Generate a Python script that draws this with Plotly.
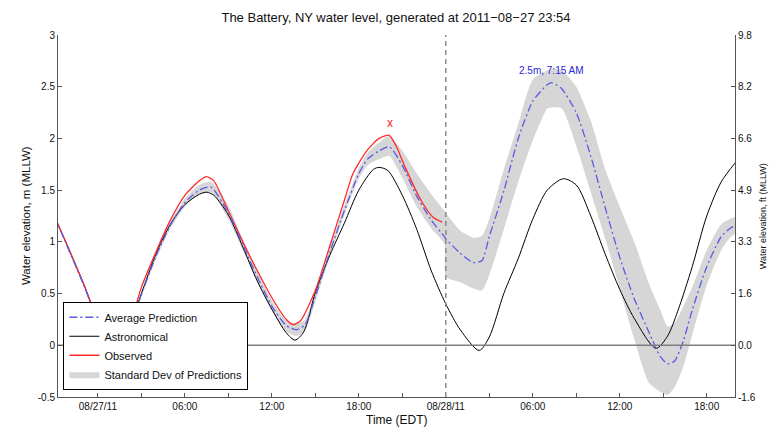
import plotly.graph_objects as go
import pandas as pd

# ---------------- data (hours relative to 2011-08-27 00:00 EDT) ----------------
astro_t = [-3, -2, -1, 0, 1.1, 2, 3, 4, 5, 6, 7, 7.5, 8, 9, 10, 11, 12, 13, 13.6, 14.2,
           15, 16, 17, 18, 19, 19.4, 20, 21, 22, 23, 24, 25, 26.3, 27, 28, 29, 30, 31,
           32.1, 33, 34, 35, 36, 37, 38.5, 39.3, 40, 41, 42, 43, 44]
astro_v = [1.25, 0.93, 0.60, 0.24, 0.01, 0.12, 0.50, 0.88, 1.17, 1.36, 1.46, 1.48, 1.45,
           1.26, 0.95, 0.62, 0.35, 0.12, 0.05, 0.13, 0.51, 0.87, 1.18, 1.50, 1.70, 1.72,
           1.69, 1.45, 1.12, 0.72, 0.40, 0.15, -0.05, 0.08, 0.50, 0.84, 1.22, 1.50, 1.61,
           1.55, 1.25, 0.88, 0.54, 0.26, -0.03, 0.09, 0.33, 0.76, 1.25, 1.58, 1.77]

obs_t = [-3, -2, -1, 0, 1.1, 2, 3, 4, 5, 6, 7, 7.5, 8, 9, 10, 11, 12, 13, 13.5, 14, 15,
         16, 17, 17.6, 18.6, 19.4, 20.1, 20.6, 21.2, 22.3, 23.1, 23.75]
obs_v = [1.25, 0.93, 0.60, 0.25, 0.03, 0.13, 0.56, 0.90, 1.21, 1.45, 1.59, 1.63, 1.59,
         1.30, 1.00, 0.72, 0.46, 0.25, 0.20, 0.24, 0.53, 0.96, 1.40, 1.66, 1.89, 2.00,
         2.03, 1.92, 1.72, 1.40, 1.24, 1.19]

pred_t = [-3, -2, -1, 0, 1.1, 2, 3, 4, 5, 6, 7, 7.8, 9, 10, 11, 12, 13, 13.7, 14.3, 15,
          16, 17, 18, 18.6, 19.4, 20.1, 21, 22, 23, 23.9, 24, 25, 25.9, 26.5, 27, 28, 29,
          30, 31, 31.3, 32, 33, 34, 35, 36, 37, 38, 38.8, 39.3, 39.8, 40.4, 41, 42, 43,
          43.6, 44]
pred_v = [1.25, 0.92, 0.59, 0.24, 0.03, 0.11, 0.49, 0.86, 1.16, 1.38, 1.50, 1.53, 1.28,
          0.97, 0.66, 0.38, 0.19, 0.15, 0.20, 0.47, 0.90, 1.30, 1.66, 1.80, 1.88, 1.92,
          1.74, 1.44, 1.21, 1.05, 1.03, 0.89, 0.80, 0.82, 1.05, 1.49, 2.00, 2.36, 2.52,
          2.54, 2.48, 2.25, 1.83, 1.33, 0.85, 0.45, 0.13, -0.11, -0.18, -0.15, 0.05, 0.34,
          0.76, 1.05, 1.13, 1.16]
pred_upper = [1.26, 0.93, 0.60, 0.25, 0.04, 0.13, 0.51, 0.89, 1.19, 1.42, 1.55, 1.58, 1.35,
              1.02, 0.71, 0.43, 0.24, 0.21, 0.25, 0.51, 0.94, 1.35, 1.71, 1.86, 1.96, 2.02,
              1.88, 1.66, 1.46, 1.30, 1.28, 1.11, 1.04, 1.06, 1.22, 1.70, 2.14, 2.57, 2.66,
              2.67, 2.66, 2.50, 2.17, 1.70, 1.34, 1.00, 0.60, 0.34, 0.18, 0.22, 0.38, 0.56,
              0.92, 1.17, 1.22, 1.24]
pred_lower = [1.24, 0.91, 0.58, 0.23, 0.02, 0.09, 0.47, 0.83, 1.13, 1.34, 1.46, 1.48, 1.22,
              0.92, 0.61, 0.33, 0.13, 0.09, 0.14, 0.42, 0.86, 1.26, 1.61, 1.74, 1.80, 1.83,
              1.62, 1.34, 1.13, 0.98, 0.66, 0.61, 0.55, 0.53, 0.68, 1.12, 1.58, 1.98, 2.29,
              2.30, 2.29, 1.93, 1.48, 1.03, 0.55, 0.06, -0.36, -0.45, -0.48, -0.40, -0.20,
              0.10, 0.58, 0.92, 1.04, 1.08]

peak_label = "2.5m, 7:15 AM"
peak_t = 31.25
peak_label_v = 2.66
obs_max_t = 20.15
obs_max_v = 2.15
nowcast_t = 24.0

x_range_t = [-2.75, 43.95]
x_tick_t = [0, 6, 12, 18, 24, 30, 36, 42]
x_tick_text = ["08/27/11", "06:00", "12:00", "18:00", "08/28/11", "06:00", "12:00", "18:00"]
m_ticks = [-0.5, 0, 0.5, 1, 1.5, 2, 2.5, 3]
m_tick_text = ["-0.5", "0", "0.5", "1", "1.5", "2", "2.5", "3"]
ft_tick_text = ["-1.6", "0.0", "1.6", "3.3", "4.9", "6.6", "8.2", "9.8"]

base = pd.Timestamp("2011-08-27 00:00")


def T(hours):
    return [base + pd.Timedelta(hours=h) for h in hours]


FONT = "Liberation Sans, Arial, Helvetica, sans-serif"
AXC = "#555555"

fig = go.Figure()

# standard deviation band
fig.add_trace(go.Scatter(x=T(pred_t), y=pred_lower, mode="lines",
                         line=dict(width=0, shape="spline", smoothing=0.6),
                         showlegend=False, hoverinfo="skip"))
fig.add_trace(go.Scatter(x=T(pred_t), y=pred_upper, mode="lines", fill="tonexty",
                         fillcolor="#d6d6d6",
                         line=dict(width=0, shape="spline", smoothing=0.6),
                         name="Standard Dev of Predictions", legendrank=4))

# zero reference line (on the right-hand ft axis, same metric range)
fig.add_trace(go.Scatter(x=T(x_range_t), y=[0, 0], mode="lines", yaxis="y2",
                         line=dict(color="#7f7f7f", width=1.6),
                         showlegend=False, hoverinfo="skip"))

fig.add_trace(go.Scatter(x=T(astro_t), y=astro_v, mode="lines", name="Astronomical",
                         line=dict(color="black", width=1, shape="spline", smoothing=0.8),
                         legendrank=2))
fig.add_trace(go.Scatter(x=T(obs_t), y=obs_v, mode="lines", name="Observed",
                         line=dict(color="#ff2a2a", width=1.3, shape="spline", smoothing=0.6),
                         legendrank=3))
fig.add_trace(go.Scatter(x=T(pred_t), y=pred_v, mode="lines", name="Average Prediction",
                         line=dict(color="#5a5ae6", width=1.3, dash="8px,3px,2px,3px",
                                   shape="spline", smoothing=0.6),
                         legendrank=1))

fig.add_shape(type="line", xref="x", yref="paper",
              x0=T([nowcast_t])[0], x1=T([nowcast_t])[0], y0=0, y1=1,
              line=dict(color="#8a8a8a", width=1.5, dash="5px,4px"))

fig.add_annotation(x=T([peak_t])[0], y=peak_label_v, text=peak_label, showarrow=False,
                   font=dict(family=FONT, size=10, color="#2626d9"))
fig.add_annotation(x=T([obs_max_t])[0], y=obs_max_v, text="x", showarrow=False,
                   font=dict(family=FONT, size=12, color="#ff2020"))

fig.add_annotation(xref="paper", yref="paper", x=-0.059, y=0.5, textangle=-90,
                   text="Water elevation, m (MLLW)", showarrow=False,
                   font=dict(family=FONT, size=11.5, color="#111"))
fig.add_annotation(xref="paper", yref="paper", x=1.052, y=0.5, textangle=-90,
                   text="Water elevation, ft (MLLW)", showarrow=False,
                   font=dict(family=FONT, size=9, color="#111"))
fig.add_annotation(xref="paper", yref="paper", x=0.5, y=-0.063, yanchor="middle",
                   text="Time (EDT)", showarrow=False,
                   font=dict(family=FONT, size=12, color="#111"))

fig.update_layout(
    width=778, height=428,
    margin=dict(l=58, r=43, t=35, b=31),
    paper_bgcolor="white", plot_bgcolor="white",
    font=dict(family=FONT, size=10, color="#111"),
    title=dict(text="The Battery, NY water level, generated at 2011\u221208\u221227 23:54",
               x=0.509, xanchor="center", y=0.96, yanchor="middle",
               font=dict(family=FONT, size=13, color="#111")),
    xaxis=dict(type="date", range=T(x_range_t), tickmode="array",
               tickvals=T(x_tick_t), ticktext=x_tick_text,
               ticks="inside", ticklen=4, tickcolor=AXC, showline=True, linecolor=AXC,
               linewidth=1, showgrid=False, zeroline=False,
               minor=dict(dtick=3 * 3600 * 1000, tick0="2011-08-27", ticks="inside",
                          ticklen=4, tickcolor=AXC, showgrid=False),
               tickfont=dict(size=10)),
    yaxis=dict(range=[-0.5, 3], tickmode="array", tickvals=m_ticks, ticktext=m_tick_text,
               ticks="inside", ticklen=4, tickcolor=AXC, showline=True, linecolor=AXC,
               linewidth=1, showgrid=False, zeroline=False, tickfont=dict(size=10)),
    yaxis2=dict(range=[-0.5, 3], overlaying="y", side="right", tickmode="array",
                tickvals=m_ticks, ticktext=ft_tick_text, ticks="inside", ticklen=4,
                tickcolor=AXC, showline=True, linecolor=AXC, linewidth=1,
                showgrid=False, zeroline=False, tickfont=dict(size=10)),
    legend=dict(x=0.008, y=0.02, xanchor="left", yanchor="bottom", traceorder="normal",
                bgcolor="white", bordercolor="black", borderwidth=1,
                font=dict(family=FONT, size=11, color="#111"),
                tracegroupgap=0, itemwidth=30),
    showlegend=True,
)

fig.write_html("out.html", config={"displayModeBar": False},
               post_script="document.body.style.margin='0';document.body.style.padding='0';")
